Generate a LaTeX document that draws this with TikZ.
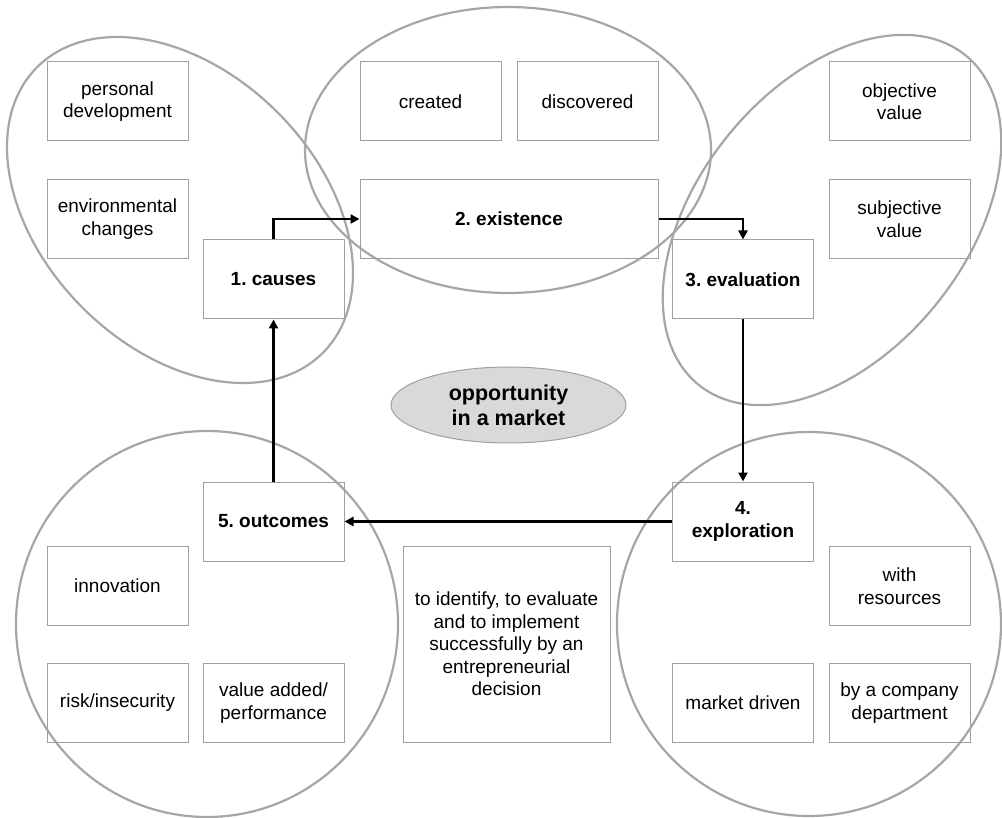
\documentclass[tikz,border=0pt]{standalone}
\usepackage{fontspec}
\setmainfont{Liberation Sans}
\usetikzlibrary{arrows.meta,shapes.geometric}
\definecolor{ringgray}{RGB}{166,166,166}
\definecolor{boxgray}{RGB}{160,160,160}
\definecolor{centerfill}{RGB}{217,217,217}
\frenchspacing
\begin{document}
\begin{tikzpicture}[x=1pt,y=-1pt,
  ring/.style={draw=ringgray, line width=2.2pt, ellipse, inner sep=0pt, outer sep=0pt},
  item/.style={draw=boxgray, line width=1pt, rectangle, minimum width=141pt, minimum height=79pt, inner sep=0pt, align=center, font=\fontsize{19}{22.5}\selectfont},
  stage/.style={item, font=\fontsize{19}{22.5}\selectfont\bfseries},
  arr/.style={draw=black, line width=2.8pt, -{Triangle[length=9pt,width=9pt]}}
]
\useasboundingbox (0,0) rectangle (1002,818);
% rings
\node[ring, minimum width=404pt, minimum height=276pt, rotate=-45] (r1) at (180,210) {};
\node[ring, minimum width=406pt, minimum height=286pt] (r2) at (508,150) {};
\node[ring, minimum width=424pt, minimum height=268pt, rotate=51] (r3) at (832,220) {};
\node[ring, minimum width=382pt, minimum height=386pt] (r5) at (207,624) {};
\node[ring, minimum width=384pt, minimum height=384pt] (r4) at (809,624) {};
% centre
\node[ellipse, draw=boxgray, line width=1pt, fill=centerfill, minimum width=235pt, minimum height=76pt, inner sep=0pt, align=center, font=\fontsize{21.5}{25}\selectfont\bfseries] (opp) at (508.5,405) {opportunity\\in a market};
% stage 1
\node[item] (pers) at (117.5,101.5) {personal\\development};
\node[item] (env) at (117.5,219) {environmental\\changes};
\node[stage] (causes) at (273.5,279.5) {1. causes};
% stage 2
\node[item] (created) at (430.5,101.5) {created};
\node[item] (disc) at (587.5,101.5) {discovered};
\node[stage, minimum width=298pt] (exist) at (509,219) {2. existence};
% stage 3
\node[item] (obj) at (899.5,101.5) {objective\\value};
\node[item] (subj) at (899.5,219) {subjective\\value};
\node[stage] (eval) at (743,279.5) {3. evaluation};
% stage 4
\node[stage] (expl) at (743,521.5) {4.\\exploration};
\node[item] (res) at (899.5,586) {with\\resources};
\node[item] (mkt) at (743,703) {market driven};
\node[item] (dept) at (899.5,703) {by a company\\department};
% stage 5
\node[stage] (outc) at (273.5,521.5) {5. outcomes};
\node[item] (innov) at (117.5,586) {innovation};
\node[item] (risk) at (117.5,703) {risk/insecurity};
\node[item] (vadd) at (273.5,703) {value added/\\performance};
% text box
\node[item, minimum width=207pt, minimum height=196pt] (desc) at (506.5,644) {to identify, to evaluate\\and to implement\\successfully by an\\entrepreneurial\\decision};
% connectors
\draw[arr] (causes.north) |- (exist.west);
\draw[arr] (exist.east) -| (eval.north);
\draw[arr] (eval.south) -- (expl.north);
\draw[arr] (expl.west) -- (outc.east);
\draw[arr] (outc.north) -- (causes.south);
\end{tikzpicture}
\end{document}
